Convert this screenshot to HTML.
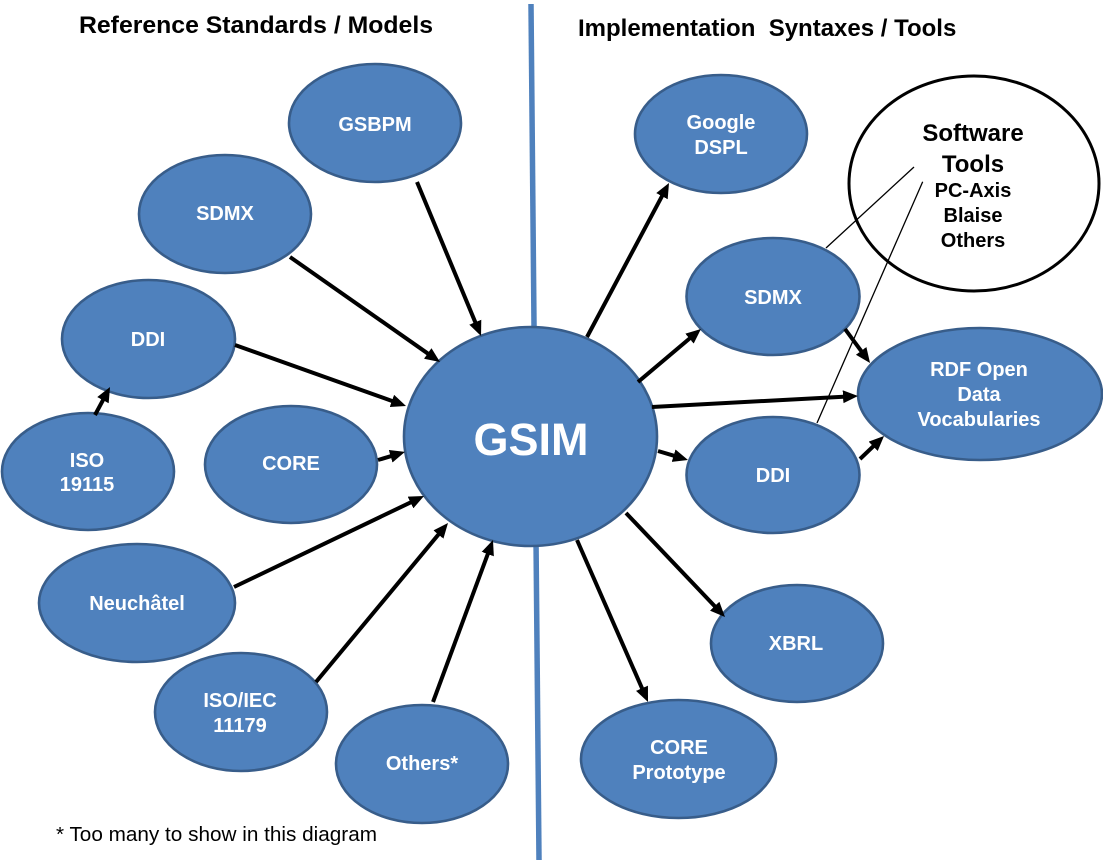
<!DOCTYPE html>
<html>
<head>
<meta charset="utf-8">
<style>
html,body{margin:0;padding:0;background:#fff;}
svg{display:block;}
text{font-family:"Liberation Sans",Arial,sans-serif;}
.n{fill:#4F81BD;stroke:#385D8A;stroke-width:2.6;}
.t{fill:#fff;font-weight:bold;font-size:20px;text-anchor:middle;}
.b{fill:#000;font-weight:bold;font-size:20px;text-anchor:middle;}
.a{stroke:#000;stroke-width:4;fill:none;marker-end:url(#ah);}
</style>
</head>
<body>
<svg width="1103" height="861" viewBox="0 0 1103 861" xmlns="http://www.w3.org/2000/svg">
<defs>
<marker id="ah" markerUnits="userSpaceOnUse" markerWidth="16" markerHeight="14" refX="5" refY="6.5" orient="auto">
<path d="M0,0 L15,6.5 L0,13 z" fill="#000"/>
</marker>
</defs>

<!-- divider -->
<line x1="531" y1="4" x2="539" y2="860" stroke="#4F81BD" stroke-width="5.5"/>

<!-- titles -->
<text x="79" y="33" font-size="24.5" font-weight="bold" fill="#000" textLength="354" lengthAdjust="spacingAndGlyphs">Reference Standards / Models</text>
<text x="578" y="36" font-size="24" font-weight="bold" fill="#000" style="white-space:pre">Implementation  Syntaxes / Tools</text>

<!-- left nodes -->
<ellipse class="n" cx="375" cy="123" rx="86" ry="59"/>
<ellipse class="n" cx="225" cy="214" rx="86" ry="59"/>
<ellipse class="n" cx="148.5" cy="339" rx="86.5" ry="59"/>
<ellipse class="n" cx="88" cy="471.5" rx="86" ry="58.5"/>
<ellipse class="n" cx="291" cy="464.5" rx="86" ry="58.5"/>
<ellipse class="n" cx="137" cy="603" rx="98" ry="59"/>
<ellipse class="n" cx="241" cy="712" rx="86" ry="59"/>
<ellipse class="n" cx="422" cy="764" rx="86" ry="59"/>

<!-- GSIM -->
<ellipse class="n" cx="530.5" cy="436.5" rx="126.5" ry="109.5"/>

<!-- right nodes -->
<ellipse class="n" cx="721" cy="134" rx="86" ry="59"/>
<ellipse class="n" cx="773" cy="296.5" rx="86.5" ry="58.5"/>
<ellipse class="n" cx="980" cy="394" rx="122" ry="66"/>
<ellipse class="n" cx="773" cy="475" rx="86.5" ry="58"/>
<ellipse class="n" cx="797" cy="643.5" rx="86" ry="58.5"/>
<ellipse class="n" cx="678.5" cy="759" rx="97.5" ry="59"/>

<!-- Software tools circle -->
<ellipse cx="974" cy="183.5" rx="125" ry="107.5" fill="#fff" stroke="#000" stroke-width="3"/>

<!-- thin connector lines -->
<line x1="914" y1="167" x2="826" y2="248" stroke="#000" stroke-width="1.3"/>
<line x1="922.7" y1="181.7" x2="817" y2="423" stroke="#000" stroke-width="1.3"/>

<!-- arrows -->
<line class="a" x1="417" y1="182" x2="477.2" y2="326.8"/>
<line class="a" x1="290" y1="257" x2="431.8" y2="356.3"/>
<line class="a" x1="235" y1="345" x2="396.6" y2="402.6"/>
<line class="a" x1="95" y1="415" x2="105.3" y2="395.8"/>
<line class="a" x1="378" y1="460" x2="395.4" y2="454.8"/>
<line class="a" x1="234" y1="587" x2="415" y2="500.3"/>
<line class="a" x1="316" y1="682" x2="441.6" y2="530.7"/>
<line class="a" x1="433" y1="702" x2="489.5" y2="549.4"/>
<line class="a" x1="587" y1="337" x2="664.3" y2="191.8"/>
<line class="a" x1="638" y1="382" x2="693.3" y2="335.4"/>
<line class="a" x1="845" y1="329" x2="864.1" y2="354.9"/>
<line class="a" x1="652" y1="407" x2="848" y2="396.5"/>
<line class="a" x1="658" y1="451" x2="678.4" y2="457.1"/>
<line class="a" x1="860" y1="459" x2="876.8" y2="442.9"/>
<line class="a" x1="626" y1="513" x2="718.1" y2="609.8"/>
<line class="a" x1="577" y1="540" x2="644" y2="692.8"/>

<!-- node labels -->
<text class="t" x="375" y="131">GSBPM</text>
<text class="t" x="225" y="220">SDMX</text>
<text class="t" x="148" y="346">DDI</text>
<text class="t" x="87" y="467">ISO</text>
<text class="t" x="87" y="491">19115</text>
<text class="t" x="291" y="470">CORE</text>
<text class="t" x="137" y="610">Neuchâtel</text>
<text class="t" x="240" y="707">ISO/IEC</text>
<text class="t" x="240" y="732">11179</text>
<text class="t" x="422" y="770">Others*</text>

<text x="531" y="455" fill="#fff" font-weight="bold" font-size="45" text-anchor="middle">GSIM</text>

<text class="t" x="721" y="129">Google</text>
<text class="t" x="721" y="154">DSPL</text>
<text class="t" x="773" y="304">SDMX</text>
<text class="t" x="979" y="376">RDF Open</text>
<text class="t" x="979" y="401">Data</text>
<text class="t" x="979" y="426">Vocabularies</text>
<text class="t" x="773" y="482">DDI</text>
<text class="t" x="796" y="650">XBRL</text>
<text class="t" x="679" y="754">CORE</text>
<text class="t" x="679" y="779">Prototype</text>

<!-- software tools text -->
<text x="973" y="141" fill="#000" font-weight="bold" font-size="24" text-anchor="middle">Software</text>
<text x="973" y="172" fill="#000" font-weight="bold" font-size="24" text-anchor="middle">Tools</text>
<text class="b" x="973" y="197">PC-Axis</text>
<text class="b" x="973" y="222">Blaise</text>
<text class="b" x="973" y="247">Others</text>

<!-- footnote -->
<text x="56" y="841" font-size="20" fill="#000" textLength="321" lengthAdjust="spacingAndGlyphs">* Too many to show in this diagram</text>
</svg>
</body>
</html>
